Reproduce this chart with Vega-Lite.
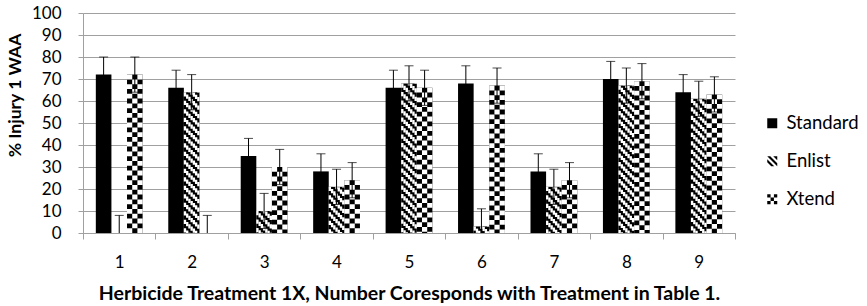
{
  "$schema": "https://vega.github.io/schema/vega-lite/v6.json",
  "width": 652,
  "height": 220,
  "autosize": "none",
  "padding": {"left": 83, "top": 13, "right": 132, "bottom": 73},
  "background": "white",
  "config": {
    "view": {"stroke": null},
    "font": "Lato",
    "axis": {"labelFont": "Lato", "titleFont": "Lato", "labelColor": "black", "titleColor": "black"},
    "axisY": {
      "tickCount": 10, "labelOverlap": false, "tickSize": 5, "tickColor": "#a0a0a0", "domainColor": "#a0a0a0",
      "gridColor": "#a0a0a0", "gridWidth": 1, "labelFontSize": 17, "labelPadding": 17,
      "titleFontSize": 17.5, "titleFontWeight": "bold", "titleAngle": -90, "titleAlign": "center",
      "titleBaseline": "middle", "titleX": -68, "titleY": 82
    }
  },
  "data": {
    "values": [
      {"treatment": 1, "series": "Standard", "value": 72, "lo": 64, "hi": 80},
      {"treatment": 1, "series": "Enlist", "value": 0, "lo": 0, "hi": 8},
      {"treatment": 1, "series": "Xtend", "value": 72, "lo": 64, "hi": 80},
      {"treatment": 2, "series": "Standard", "value": 66, "lo": 58, "hi": 74},
      {"treatment": 2, "series": "Enlist", "value": 64, "lo": 56, "hi": 72},
      {"treatment": 2, "series": "Xtend", "value": 0, "lo": 0, "hi": 8},
      {"treatment": 3, "series": "Standard", "value": 35, "lo": 27, "hi": 43},
      {"treatment": 3, "series": "Enlist", "value": 10, "lo": 2, "hi": 18},
      {"treatment": 3, "series": "Xtend", "value": 30, "lo": 22, "hi": 38},
      {"treatment": 4, "series": "Standard", "value": 28, "lo": 20, "hi": 36},
      {"treatment": 4, "series": "Enlist", "value": 21, "lo": 13, "hi": 29},
      {"treatment": 4, "series": "Xtend", "value": 24, "lo": 16, "hi": 32},
      {"treatment": 5, "series": "Standard", "value": 66, "lo": 58, "hi": 74},
      {"treatment": 5, "series": "Enlist", "value": 68, "lo": 60, "hi": 76},
      {"treatment": 5, "series": "Xtend", "value": 66, "lo": 58, "hi": 74},
      {"treatment": 6, "series": "Standard", "value": 68, "lo": 60, "hi": 76},
      {"treatment": 6, "series": "Enlist", "value": 3, "lo": 0, "hi": 11},
      {"treatment": 6, "series": "Xtend", "value": 67, "lo": 59, "hi": 75},
      {"treatment": 7, "series": "Standard", "value": 28, "lo": 20, "hi": 36},
      {"treatment": 7, "series": "Enlist", "value": 21, "lo": 13, "hi": 29},
      {"treatment": 7, "series": "Xtend", "value": 24, "lo": 16, "hi": 32},
      {"treatment": 8, "series": "Standard", "value": 70, "lo": 62, "hi": 78},
      {"treatment": 8, "series": "Enlist", "value": 67, "lo": 59, "hi": 75},
      {"treatment": 8, "series": "Xtend", "value": 69, "lo": 61, "hi": 77},
      {"treatment": 9, "series": "Standard", "value": 64, "lo": 56, "hi": 72},
      {"treatment": 9, "series": "Enlist", "value": 61, "lo": 53, "hi": 69},
      {"treatment": 9, "series": "Xtend", "value": 63, "lo": 55, "hi": 71}
    ]
  },
  "encoding": {
    "x": {
      "field": "treatment", "type": "ordinal",
      "scale": {"paddingInner": 0, "paddingOuter": 0},
      "axis": {
        "labelAngle": 0, "tickBand": "extent", "tickSize": 6, "tickColor": "#a0a0a0",
        "domainColor": "#a0a0a0", "domainWidth": 1.2, "labelFontSize": 17, "labelPadding": 15,
        "title": "Herbicide Treatment 1X, Number Coresponds with Treatment in Table 1.",
        "titleFontSize": 19.5, "titleFontWeight": "bold", "titleBaseline": "alphabetic", "titleY": 66
      }
    }
  },
  "layer": [
    {
      "mark": {"type": "bar", "strokeWidth": 0},
      "encoding": {
        "xOffset": {
          "field": "series", "type": "nominal",
          "scale": {"domain": ["Standard", "Enlist", "Xtend"], "paddingInner": 0, "paddingOuter": 0.822}
        },
        "y": {
          "field": "value", "type": "quantitative",
          "scale": {"domain": [0, 100]},
          "axis": {"title": "% Injury 1 WAA"}
        },
        "fill": {
          "field": "series", "type": "nominal",
          "scale": {"domain": ["Standard", "Enlist", "Xtend"], "range": ["black", "black", "black"]},
          "legend": {
            "title": null, "orient": "none", "legendX": 680, "legendY": 101, "padding": 0,
            "labelFont": "Lato", "labelFontSize": 18.5, "labelColor": "black", "labelOffset": 5,
            "symbolSize": 100, "rowPadding": 19, "symbolStrokeWidth": 0,
            "encode": {
              "symbols": {
                "update": {
                  "shape": {"signal": "datum.value === 'Enlist' ? 'M-1,-1L-0.4,-1L1,0.4L1,1Z M-1,-0.4L-1,0.2L-0.2,1L0.4,1Z M0.2,-1L1,-1L1,-0.2Z' : datum.value === 'Xtend' ? 'M-1,-1h0.667v0.667h-0.667z M0.333,-1h0.667v0.667h-0.667z M-0.333,-0.333h0.667v0.667h-0.667z M-1,0.333h0.667v0.667h-0.667z M0.333,0.333h0.667v0.667h-0.667z' : 'square'"}
                }
              }
            }
          }
        }
      }
    },
    {
      "transform": [{"filter": "datum.series === 'Enlist'"}],
      "mark": {"type": "rule", "color": "white", "strokeWidth": 2.35, "strokeDash": [4.25, 4.25], "strokeDashOffset": 0},
      "encoding": {"x": {"field": "treatment", "type": "ordinal", "bandPosition": 0.4077}, "y": {"field": "value", "type": "quantitative"}, "y2": {"datum": 0}}
    },
    {
      "transform": [{"filter": "datum.series === 'Enlist'"}],
      "mark": {"type": "rule", "color": "white", "strokeWidth": 2.35, "strokeDash": [4.25, 4.25], "strokeDashOffset": 6.271},
      "encoding": {"x": {"field": "treatment", "type": "ordinal", "bandPosition": 0.43847}, "y": {"field": "value", "type": "quantitative"}, "y2": {"datum": 0}}
    },
    {
      "transform": [{"filter": "datum.series === 'Enlist'"}],
      "mark": {"type": "rule", "color": "white", "strokeWidth": 2.35, "strokeDash": [4.25, 4.25], "strokeDashOffset": 4.043},
      "encoding": {"x": {"field": "treatment", "type": "ordinal", "bandPosition": 0.46923}, "y": {"field": "value", "type": "quantitative"}, "y2": {"datum": 0}}
    },
    {
      "transform": [{"filter": "datum.series === 'Enlist'"}],
      "mark": {"type": "rule", "color": "white", "strokeWidth": 2.35, "strokeDash": [4.25, 4.25], "strokeDashOffset": 1.814},
      "encoding": {"x": {"field": "treatment", "type": "ordinal", "bandPosition": 0.5}, "y": {"field": "value", "type": "quantitative"}, "y2": {"datum": 0}}
    },
    {
      "transform": [{"filter": "datum.series === 'Enlist'"}],
      "mark": {"type": "rule", "color": "white", "strokeWidth": 2.35, "strokeDash": [4.25, 4.25], "strokeDashOffset": 8.086},
      "encoding": {"x": {"field": "treatment", "type": "ordinal", "bandPosition": 0.53077}, "y": {"field": "value", "type": "quantitative"}, "y2": {"datum": 0}}
    },
    {
      "transform": [{"filter": "datum.series === 'Enlist'"}],
      "mark": {"type": "rule", "color": "white", "strokeWidth": 2.35, "strokeDash": [4.25, 4.25], "strokeDashOffset": 5.857},
      "encoding": {"x": {"field": "treatment", "type": "ordinal", "bandPosition": 0.56153}, "y": {"field": "value", "type": "quantitative"}, "y2": {"datum": 0}}
    },
    {
      "transform": [{"filter": "datum.series === 'Enlist'"}],
      "mark": {"type": "rule", "color": "white", "strokeWidth": 2.35, "strokeDash": [4.25, 4.25], "strokeDashOffset": 3.629},
      "encoding": {"x": {"field": "treatment", "type": "ordinal", "bandPosition": 0.5923}, "y": {"field": "value", "type": "quantitative"}, "y2": {"datum": 0}}
    },
    {
      "transform": [{"filter": "datum.series === 'Xtend'"}],
      "mark": {"type": "rule", "color": "white", "strokeWidth": 5.25, "strokeDash": [4.8, 4.8], "strokeDashOffset": 0},
      "encoding": {"x": {"field": "treatment", "type": "ordinal", "bandPosition": 0.6436}, "y": {"field": "value", "type": "quantitative"}, "y2": {"datum": 0}}
    },
    {
      "transform": [{"filter": "datum.series === 'Xtend'"}],
      "mark": {"type": "rule", "color": "white", "strokeWidth": 5.25, "strokeDash": [4.8, 4.8], "strokeDashOffset": 4.8},
      "encoding": {"x": {"field": "treatment", "type": "ordinal", "bandPosition": 0.7154}, "y": {"field": "value", "type": "quantitative"}, "y2": {"datum": 0}}
    },
    {
      "transform": [{"filter": "datum.series === 'Xtend'"}],
      "mark": {"type": "rule", "color": "white", "strokeWidth": 5.25, "strokeDash": [4.8, 4.8], "strokeDashOffset": 0},
      "encoding": {"x": {"field": "treatment", "type": "ordinal", "bandPosition": 0.7871}, "y": {"field": "value", "type": "quantitative"}, "y2": {"datum": 0}}
    },
    {
      "mark": {"type": "rule", "color": "black", "strokeWidth": 1},
      "encoding": {
        "xOffset": {"field": "series", "type": "nominal", "scale": {"domain": ["Standard", "Enlist", "Xtend"], "paddingInner": 0, "paddingOuter": 0.822}},
        "y": {"field": "lo", "type": "quantitative"}, "y2": {"field": "hi"}
      }
    },
    {
      "mark": {"type": "tick", "color": "black", "thickness": 1, "size": 9},
      "encoding": {
        "xOffset": {"field": "series", "type": "nominal", "scale": {"domain": ["Standard", "Enlist", "Xtend"], "paddingInner": 0, "paddingOuter": 0.822}},
        "y": {"field": "hi", "type": "quantitative"}
      }
    },
    {
      "transform": [{"filter": "datum.lo > 0"}],
      "mark": {"type": "tick", "color": "black", "thickness": 1, "size": 9},
      "encoding": {
        "xOffset": {"field": "series", "type": "nominal", "scale": {"domain": ["Standard", "Enlist", "Xtend"], "paddingInner": 0, "paddingOuter": 0.822}},
        "y": {"field": "lo", "type": "quantitative"}
      }
    }
  ]
}
